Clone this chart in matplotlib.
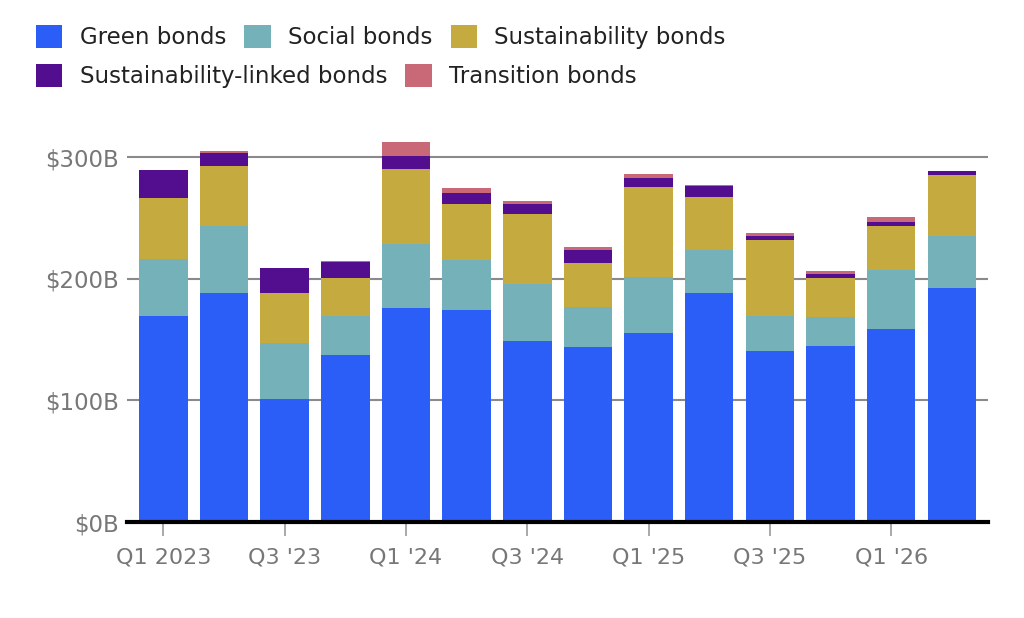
import numpy as np
import matplotlib
matplotlib.use("Agg")
import matplotlib.pyplot as plt
from matplotlib.patches import Patch

quarters = ["Q1 2023", "Q2 '23", "Q3 '23", "Q4 '23", "Q1 '24", "Q2 '24", "Q3 '24",
            "Q4 '24", "Q1 '25", "Q2 '25", "Q3 '25", "Q4 '25", "Q1 '26", "Q2 '26"]

# issuance in $B
green = [169, 188.5, 101, 137, 175.6, 174, 149, 143.6, 155, 188.5, 140.5, 145, 159, 192.6]
social = [47, 54.8, 46.5, 32.5, 52.6, 41, 47, 33, 46.6, 35, 29, 23.3, 48, 42.2]
sustainability = [50.5, 49, 41, 31, 62.2, 46.4, 57.5, 36.3, 73.7, 43.3, 62.7, 32.3, 36.2, 50.7]
sustainability_linked = [23, 11.3, 20, 13, 10.7, 9, 7.8, 10.7, 7.4, 9.6, 2.8, 3.6, 3, 3.3]
transition = [0, 1.6, 0, 1.4, 10.9, 3.8, 2.9, 2.7, 3.3, 0.6, 2.7, 2.2, 4.1, 0]

series = [
    ("Green bonds", green, "#2A5EF6"),
    ("Social bonds", social, "#74B1B9"),
    ("Sustainability bonds", sustainability, "#C4AA3F"),
    ("Sustainability-linked bonds", sustainability_linked, "#520E8F"),
    ("Transition bonds", transition, "#C96877"),
]

fig = plt.figure(figsize=(10.24, 6.18), dpi=100)
ax = fig.add_axes([0.124, 0.1553, 0.841, 0.63])

x = np.arange(len(quarters))
bottom = np.zeros(len(quarters))
for name, vals, color in series:
    vals = np.array(vals, dtype=float)
    ax.bar(x, vals, width=0.8, bottom=bottom, color=color, zorder=2, linewidth=0)
    bottom += vals

ax.set_xlim(-0.6, 13.6)
ax.set_ylim(0, 320)
ax.set_yticks([0, 100, 200, 300])
ax.set_yticklabels(["$0B", "$100B", "$200B", "$300B"])
ax.yaxis.grid(True, color="#8a8a8a", linewidth=1.5, zorder=0)
ax.tick_params(axis="y", length=0, pad=6, labelsize=16.5, labelcolor="#777777")

ax.set_xticks(x[::2])
ax.set_xticklabels(quarters[::2])
ax.tick_params(axis="x", length=10, width=1.2, color="#999999", pad=8,
               labelsize=16, labelcolor="#777777")

for s in ["top", "right", "left"]:
    ax.spines[s].set_visible(False)
ax.spines["bottom"].set_linewidth(3)
ax.spines["bottom"].set_color("black")
ax.spines["bottom"].set_zorder(3)

handles = [Patch(facecolor=c, edgecolor="none", label=n) for n, _, c in series]
leg_kw = dict(frameon=False, fontsize=16.5, handlelength=1.15, handleheight=1.15,
              handletextpad=0.75, columnspacing=0.8, borderaxespad=0, borderpad=0,
              labelcolor="#222222")
fig.legend(handles=handles[:3], ncol=3, loc="center left",
           bbox_to_anchor=(36 / 1024, 1 - 37 / 618), **leg_kw)
fig.legend(handles=handles[3:], ncol=2, loc="center left",
           bbox_to_anchor=(36 / 1024, 1 - 76 / 618), **leg_kw)

fig.savefig("out.png", dpi=100)
